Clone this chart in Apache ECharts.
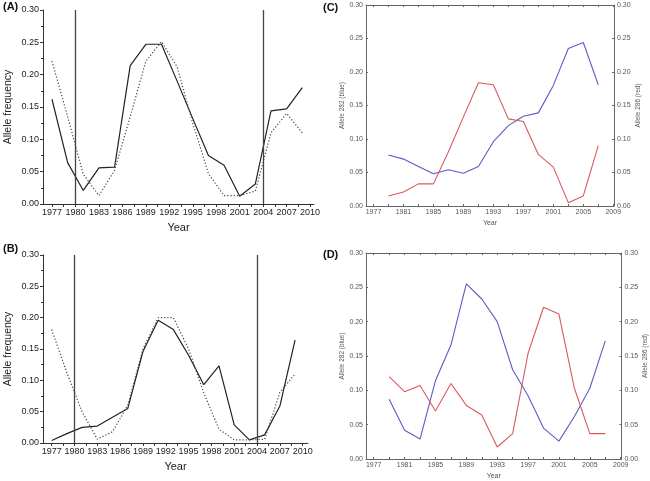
<!DOCTYPE html>
<html><head><meta charset="utf-8">
<script src="https://cdn.jsdelivr.net/npm/echarts@6/dist/echarts.min.js"></script>
<style>html,body{margin:0;padding:0;background:#fff}#c{width:650px;height:481px}</style>
</head><body><div id="c"></div>
<script>
// ---- data ----
const yearsLeft = [1977,1979,1981,1983,1985,1987,1989,1991,1993,1995,1997,1999,2001,2003,2005,2007,2009];
const yearsRight = [1979,1981,1983,1985,1987,1989,1991,1993,1995,1997,1999,2001,2003,2005,2007];
const aSolid  = [0.162,0.064,0.021,0.056,0.057,0.214,0.247,0.247,0.190,0.132,0.075,0.060,0.012,0.031,0.144,0.147,0.180];
const aDotted = [0.221,0.135,0.046,0.013,0.052,0.135,0.221,0.251,0.212,0.125,0.047,0.013,0.013,0.020,0.110,0.140,0.110];
const bSolid  = [0.004,0.015,0.025,0.027,0.041,0.055,0.146,0.196,0.181,0.140,0.093,0.123,0.029,0.005,0.013,0.059,0.164];
const bDotted = [0.181,0.112,0.050,0.006,0.018,0.060,0.150,0.200,0.200,0.150,0.080,0.022,0.005,0.005,0.006,0.081,0.110];
const cBlue = [0.076,0.070,0.059,0.048,0.054,0.049,0.059,0.096,0.120,0.134,0.139,0.180,0.235,0.244,0.181];
const cRed  = [0.015,0.021,0.033,0.033,0.081,0.133,0.184,0.181,0.130,0.126,0.077,0.058,0.005,0.015,0.090];
const dBlue = [0.087,0.042,0.029,0.114,0.166,0.255,0.233,0.200,0.130,0.092,0.045,0.026,0.062,0.103,0.172];
const dRed  = [0.120,0.098,0.107,0.070,0.110,0.078,0.064,0.0175,0.037,0.154,0.221,0.211,0.103,0.037,0.037];
const leftTickLabels = [1977,1980,1983,1986,1989,1992,1995,1998,2001,2004,2007,2010];
const rightTickLabels = [1977,1981,1985,1989,1993,1997,2001,2005,2009];
const markerYears = [1980, 2004];
const panelLabels = ['(A)','(B)','(C)','(D)'];

const pair = (xs, ys) => xs.map((x,i)=>[x, ys[i]]);
const range = (a,b,s) => { const r=[]; for(let v=a; v<=b+1e-9; v+=s) r.push(+v.toFixed(2)); return r; };

const FL = 'Liberation Sans, Arial, sans-serif';
const leftLabel = {fontFamily: FL, fontSize: 9, color: '#222'};
const rightLabel = {fontFamily: FL, fontSize: 7, color: '#555'};

function leftX(gi, min, max) {
  return {
    gridIndex: gi, type: 'value', min, max,
    name: 'Year', nameLocation: 'middle', nameGap: 18,
    nameTextStyle: {fontFamily: FL, fontSize: 11, color: '#222'},
    axisLine: {show: true, onZero: false, lineStyle: {color: '#333', width: 1}},
    axisTick: {show: true, inside: false, length: 3, customValues: range(1977, 2010, 1.5), lineStyle: {color: '#333'}},
    axisLabel: Object.assign({margin: 4, customValues: leftTickLabels, formatter: v => String(Math.round(v))}, leftLabel),
    splitLine: {show: false}
  };
}
function leftY(gi) {
  return {
    gridIndex: gi, type: 'value', min: 0, max: 0.3, interval: 0.05,
    name: 'Allele frequency', nameLocation: 'middle', nameGap: 29, nameRotate: 90,
    nameTextStyle: {fontFamily: FL, fontSize: 10.5, color: '#222'},
    axisLine: {show: true, lineStyle: {color: '#333', width: 1}},
    axisTick: {show: true, length: 3, lineStyle: {color: '#333'}},
    minorTick: {show: true, splitNumber: 2, length: 2, lineStyle: {color: '#333'}},
    axisLabel: Object.assign({margin: 4, formatter: v => v.toFixed(2)}, leftLabel),
    splitLine: {show: false}
  };
}
function rightX(gi, min, max, gap) {
  return [{
    gridIndex: gi, type: 'value', min, max, position: 'bottom',
    name: 'Year', nameLocation: 'middle', nameGap: gap,
    nameTextStyle: {fontFamily: FL, fontSize: 7, color: '#555'},
    axisLine: {show: true, onZero: false, lineStyle: {color: '#666', width: 1}},
    axisTick: {show: true, inside: true, length: 2, customValues: range(1977, 2009, 2), lineStyle: {color: '#666'}},
    axisLabel: Object.assign({margin: 3, customValues: rightTickLabels, formatter: v => String(Math.round(v))}, rightLabel),
    splitLine: {show: false}
  }, {
    gridIndex: gi, type: 'value', min, max, position: 'top',
    axisLine: {show: true, onZero: false, lineStyle: {color: '#666', width: 1}},
    axisTick: {show: true, inside: true, length: 2, customValues: range(1977, 2009, 2), lineStyle: {color: '#666'}},
    axisLabel: {show: false}, splitLine: {show: false}
  }];
}
function rightY(gi, pos, name, gap) {
  return {
    gridIndex: gi, type: 'value', min: 0, max: 0.3, interval: 0.05, position: pos,
    name, nameLocation: 'middle', nameGap: gap, nameRotate: 90,
    nameTextStyle: {fontFamily: FL, fontSize: 6.5, color: '#555'},
    axisLine: {show: true, onZero: false, lineStyle: {color: '#666', width: 1}},
    axisTick: {show: true, inside: true, length: 2, lineStyle: {color: '#666'}},
    axisLabel: Object.assign({margin: 3, formatter: v => v.toFixed(2)}, rightLabel),
    splitLine: {show: false}
  };
}

const markLineDef = {
  silent: true, symbol: 'none', label: {show: false},
  lineStyle: {color: '#444', width: 1.3, type: 'solid'},
  data: markerYears.map(y => ({xAxis: y}))
};

const cX = rightX(2, 1976, 2009.1, 14);
const dX = rightX(3, 1976, 2009.1, 14);

const option = {
  animation: false,
  backgroundColor: '#fff',
  grid: [
    {left: 43, top: 10, width: 271, height: 194},
    {left: 43, top: 255, width: 265, height: 188},
    {left: 366, top: 5, width: 248, height: 201},
    {left: 366, top: 253, width: 256, height: 206}
  ],
  xAxis: [leftX(0, 1975.85, 2010.5), leftX(1, 1975.86, 2010.7), cX[0], cX[1], dX[0], dX[1]],
  yAxis: [leftY(0), leftY(1),
    rightY(2, 'left', 'Allele 282 (blue)', 20), rightY(2, 'right', 'Allele 286 (red)', 20),
    rightY(3, 'left', 'Allele 282 (blue)', 18), rightY(3, 'right', 'Allele 286 (red)', 17)],
  series: [
    {type: 'line', xAxisIndex: 0, yAxisIndex: 0, data: pair(yearsLeft, aSolid), symbol: 'none',
     lineStyle: {color: '#222', width: 1.2}, markLine: markLineDef},
    {type: 'line', xAxisIndex: 0, yAxisIndex: 0, data: pair(yearsLeft, aDotted), symbol: 'none',
     lineStyle: {color: '#444', width: 1.2, type: [1.2, 2]}},
    {type: 'line', xAxisIndex: 1, yAxisIndex: 1, data: pair(yearsLeft, bSolid), symbol: 'none',
     lineStyle: {color: '#222', width: 1.2}, markLine: markLineDef},
    {type: 'line', xAxisIndex: 1, yAxisIndex: 1, data: pair(yearsLeft, bDotted), symbol: 'none',
     lineStyle: {color: '#444', width: 1.2, type: [1.2, 2]}},
    {type: 'line', xAxisIndex: 2, yAxisIndex: 2, data: pair(yearsRight, cBlue), symbol: 'none',
     lineStyle: {color: '#5b5bc8', width: 1.1}},
    {type: 'line', xAxisIndex: 2, yAxisIndex: 3, data: pair(yearsRight, cRed), symbol: 'none',
     lineStyle: {color: '#d9585e', width: 1.1}},
    {type: 'line', xAxisIndex: 4, yAxisIndex: 4, data: pair(yearsRight, dBlue), symbol: 'none',
     lineStyle: {color: '#5b5bc8', width: 1.1}},
    {type: 'line', xAxisIndex: 4, yAxisIndex: 5, data: pair(yearsRight, dRed), symbol: 'none',
     lineStyle: {color: '#d9585e', width: 1.1}}
  ],
  graphic: [
    {type: 'text', left: 3, top: 1, style: {text: panelLabels[0], font: 'bold 11px Liberation Sans, Arial', fill: '#111'}},
    {type: 'text', left: 3, top: 243, style: {text: panelLabels[1], font: 'bold 11px Liberation Sans, Arial', fill: '#111'}},
    {type: 'text', left: 323, top: 2, style: {text: panelLabels[2], font: 'bold 11px Liberation Sans, Arial', fill: '#111'}},
    {type: 'text', left: 323, top: 249, style: {text: panelLabels[3], font: 'bold 11px Liberation Sans, Arial', fill: '#111'}}
  ]
};
const chart = echarts.init(document.getElementById('c'));
chart.setOption(option);
</script></body></html>
